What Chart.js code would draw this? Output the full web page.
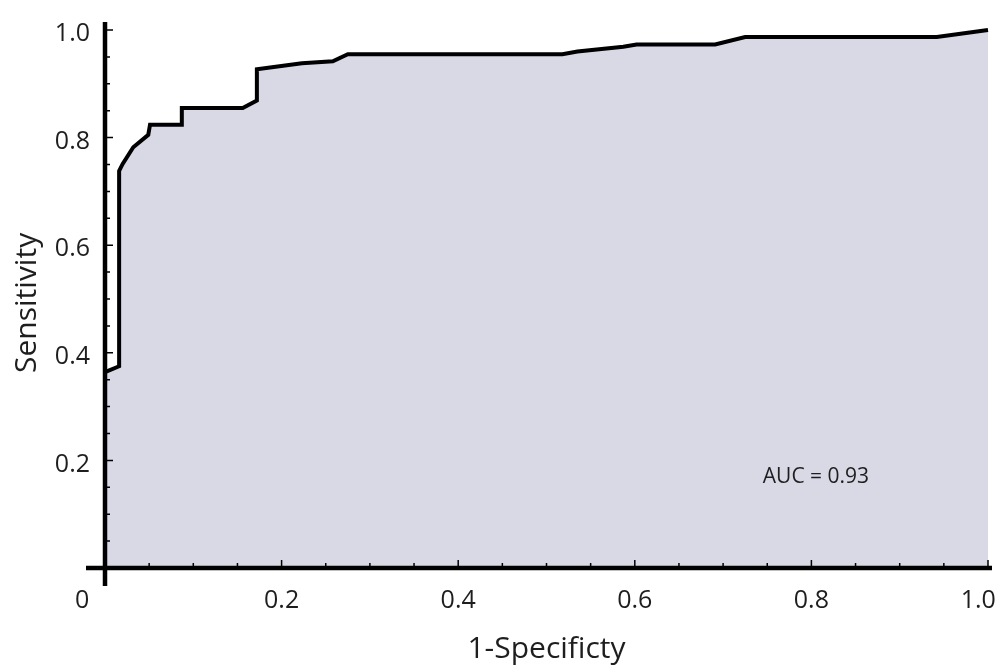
<!DOCTYPE html>
<html>
<head>
<meta charset="utf-8">
<script src="https://cdn.jsdelivr.net/npm/chart.js@4/dist/chart.umd.min.js"></script>
<style>
  html, body { margin: 0; padding: 0; background: #fff; }
  #wrap { width: 997px; height: 667px; position: relative; }
</style>
</head>
<body>
<div id="wrap"><canvas id="rocChart"></canvas></div>
<script>
// ROC curve
const fprValues = [0, 0.016, 0.016, 0.020, 0.032, 0.049, 0.051, 0.087, 0.087, 0.156, 0.172, 0.172,
                   0.223, 0.258, 0.275, 0.518, 0.535, 0.587, 0.602, 0.691, 0.725, 0.942, 1.0];
const tprValues = [0.364, 0.375, 0.738, 0.751, 0.782, 0.805, 0.824, 0.824, 0.855, 0.855, 0.869, 0.927,
                   0.938, 0.942, 0.955, 0.955, 0.960, 0.969, 0.973, 0.973, 0.987, 0.987, 1.0];

const xTickValues = [0, 0.2, 0.4, 0.6, 0.8, 1.0];
const xTickLabels = ['0', '0.2', '0.4', '0.6', '0.8', '1.0'];
const yTickValues = [0.2, 0.4, 0.6, 0.8, 1.0];
const yTickLabels = ['0.2', '0.4', '0.6', '0.8', '1.0'];

const xTitle = '1-Specificty';
const yTitle = 'Sensitivity';
const aucText = 'AUC = 0.93';
const aucPos = { x: 0.745, y: 0.169 };

const FONT = '"Open Sans", "DejaVu Sans", sans-serif';
const TEXT = '#1e1e1e';

// mathematica-style axes: lines through the origin, inward ticks
const axesPlugin = {
    id: 'axes',
    afterDatasetsDraw(chart) {
        const ctx = chart.ctx;
        const xs = chart.scales.x, ys = chart.scales.y;
        const x0 = xs.getPixelForValue(0), y0 = ys.getPixelForValue(0);
        const x1 = xs.getPixelForValue(1), y1 = ys.getPixelForValue(1);
        ctx.save();
        ctx.strokeStyle = '#000';
        ctx.lineCap = 'butt';

        ctx.lineWidth = 4.5;
        ctx.beginPath();
        ctx.moveTo(x0 - 19, y0);
        ctx.lineTo(x1 + 4, y0);
        ctx.moveTo(x0, y0 + 18);
        ctx.lineTo(x0, y1 - 8);
        ctx.stroke();

        ctx.lineWidth = 1.5;
        ctx.beginPath();
        for (let i = 1; i <= 20; i++) {
            const v = i * 0.05;
            const major = i % 4 === 0;
            const len = major ? 8 : 5;
            const px = xs.getPixelForValue(v);
            ctx.moveTo(px, y0);
            ctx.lineTo(px, y0 - len);
            const py = ys.getPixelForValue(v);
            ctx.moveTo(x0, py);
            ctx.lineTo(x0 + len, py);
        }
        ctx.stroke();

        ctx.fillStyle = TEXT;
        ctx.font = '21px ' + FONT;
        ctx.textAlign = 'left';
        ctx.textBaseline = 'middle';
        ctx.fillText(aucText, xs.getPixelForValue(aucPos.x), ys.getPixelForValue(aucPos.y));
        ctx.restore();
    }
};

const ctx = document.getElementById('rocChart').getContext('2d');
new Chart(ctx, {
    type: 'line',
    data: {
        datasets: [{
            data: fprValues.map((x, i) => ({ x, y: tprValues[i] })),
            borderColor: '#000',
            borderWidth: 4,
            borderJoinStyle: 'miter',
            backgroundColor: '#d9d9e6',
            fill: 'origin',
            pointRadius: 0,
            tension: 0,
            clip: false
        }]
    },
    options: {
        responsive: true,
        maintainAspectRatio: false,
        animation: false,
        layout: { padding: { top: 18, right: 9, bottom: 0, left: 0 } },
        plugins: { legend: { display: false }, tooltip: { enabled: false } },
        scales: {
            x: {
                type: 'linear',
                min: 0,
                max: 1,
                grid: { display: false, drawTicks: false },
                border: { display: false },
                afterBuildTicks: s => { s.ticks = xTickValues.map(v => ({ value: v })); },
                afterFit: s => { s.height = 99; s.paddingLeft = 0; s.paddingRight = 0; },
                ticks: {
                    autoSkip: false,
                    maxRotation: 0,
                    padding: 18,
                    color: TEXT,
                    font: { family: FONT, size: 25 },
                    // nudge the end labels like the original does
                    callback: (v, i) => {
                        if (i === 0) return xTickLabels[i] + '       ';
                        if (i === xTickLabels.length - 1) return xTickLabels[i] + '   ';
                        return xTickLabels[i];
                    }
                },
                title: {
                    display: true,
                    text: xTitle,
                    color: TEXT,
                    font: { family: FONT, size: 30 },
                    padding: { top: 0, bottom: 0 }
                }
            },
            y: {
                type: 'linear',
                min: 0,
                max: 1,
                grid: { display: false, drawTicks: false },
                border: { display: false },
                afterBuildTicks: s => { s.ticks = yTickValues.map(v => ({ value: v })); },
                afterFit: s => { s.width = 105; },
                ticks: {
                    autoSkip: false,
                    padding: 15,
                    labelOffset: 4,
                    color: TEXT,
                    font: { family: FONT, size: 25 },
                    callback: (v, i) => yTickLabels[i]
                },
                title: {
                    display: true,
                    text: yTitle + ' ',
                    color: TEXT,
                    font: { family: FONT, size: 30 },
                    padding: { top: 9, bottom: 0 }
                }
            }
        }
    },
    plugins: [axesPlugin]
});
</script>
</body>
</html>
